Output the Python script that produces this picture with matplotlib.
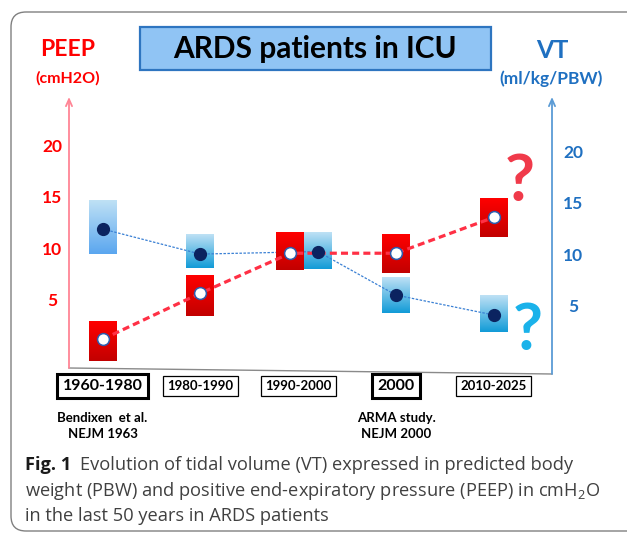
import matplotlib
matplotlib.use('Agg')
import matplotlib.pyplot as plt
import numpy as np
from matplotlib.colors import LinearSegmentedColormap
from matplotlib.patches import FancyBboxPatch, Rectangle
from matplotlib.transforms import blended_transform_factory
from matplotlib.lines import Line2D

# ---------------- data ----------------
periods = ['1960-1980', '1980-1990', '1990-2000', '2000', '2010-2025']
landmark = [True, False, False, True, False]
references = {0: 'Bendixen  et al.\nNEJM 1963', 3: 'ARMA study.\nNEJM 2000'}

peep = [1.1, 5.6, 9.5, 9.5, 13.0]          # cmH2O
peep_low = [-1.0, 3.4, 7.85, 7.55, 11.1]
peep_high = [2.9, 7.35, 11.55, 11.3, 14.9]

vt = [12.45, 10.0, 10.25, 6.0, 4.05]       # ml/kg PBW
vt_low = [10.0, 8.65, 8.55, 4.25, 2.4]
vt_high = [15.2, 11.95, 12.15, 7.75, 6.0]

peep_ticks = [5, 10, 15, 20]
vt_ticks = [5, 10, 15, 20]

title = 'ARDS patients in ICU'
caption_bold = 'Fig. 1'
caption_lines = ['Evolution of tidal volume (VT) expressed in predicted body',
                 'weight (PBW) and positive end-expiratory pressure (PEEP) in cmH$_2$O',
                 'in the last 50 years in ARDS patients']

# ---------------- style ----------------
plt.rcParams['font.family'] = ['Lato', 'DejaVu Sans']
plt.rcParams['mathtext.default'] = 'regular'
RED = '#ff0000'
BLUE_TXT = '#1f70c1'

W, H = 627, 536
fig = plt.figure(figsize=(W / 100, H / 100), dpi=100)
fig.patch.set_facecolor('white')


def fx(x):
    return x / W


def fy(y):
    return 1 - y / H


# outer rounded frame
frame = FancyBboxPatch((11 / 100, (H - 531) / 100), (660 - 11) / 100, (531 - 12) / 100,
                       boxstyle='round,pad=0,rounding_size=0.15',
                       transform=fig.dpi_scale_trans, fc='none', ec='#808080', lw=1.0)
fig.add_artist(frame)

AX_L, AX_R, AX_T, AX_B = 69, 552, 97, 368
ax = fig.add_axes([fx(AX_L), fy(AX_B), (AX_R - AX_L) / W, (AX_B - AX_T) / H])
ax2 = ax.twinx()
for a in (ax, ax2):
    for s in a.spines.values():
        s.set_visible(False)
    a.set_xticks([])
ax.patch.set_alpha(0)

n = len(periods)
idx = np.arange(n)
overlap = periods.index('1990-2000')
x_peep = idx - 0.08 * (idx == overlap)
x_vt = idx + 0.20 * (idx == overlap)
RW = 0.286

grad = np.linspace(0, 1, 256).reshape(-1, 1)


def gradient_rect(x, lo, hi, c_top, c_bot, transform, z):
    cmap = LinearSegmentedColormap.from_list('g', [c_bot, c_top])
    ax.imshow(grad, extent=[x - RW / 2, x + RW / 2, lo, hi], origin='lower', cmap=cmap,
              aspect='auto', transform=transform, zorder=z, interpolation='bilinear')


vt_bottom_cols = ['#5aa6ef', '#119bd7', '#119bd7', '#119bd7', '#119bd7']
for i in range(n):
    gradient_rect(x_vt[i], vt_low[i], vt_high[i], '#bfe1f5', vt_bottom_cols[i], ax2.transData, 2)
    gradient_rect(x_peep[i], peep_low[i], peep_high[i], '#ff0000', '#c20000', ax.transData, 4)

ax.plot(x_vt, vt, transform=ax2.transData, color='#3a80d4', lw=0.9, ls=(0, (2, 1.2)), zorder=3)
ax.plot(x_peep, peep, color='#ff3045', lw=2.3, ls=(0, (2.2, 1.3)), zorder=5)
ax.plot(x_peep, peep, 'o', ms=8.5, mfc='white', mec='#2a5db0', mew=1.1, zorder=7, ls='none')
ax.plot(x_vt, vt, 'o', ms=8.5, mfc='#0b2360', mec='#0b2360', transform=ax2.transData,
        zorder=7, ls='none')

ax.set_xlim(-0.3436, 4.595)
ax.set_ylim(-1.709, 24.756)
ax2.set_ylim(-1.123, 25.34)

ax.set_yticks(peep_ticks, labels=[str(t) for t in peep_ticks], fontweight='bold', ha='center')
ax.tick_params(axis='y', length=0, pad=12.2, labelcolor=RED, labelsize=12.5)
ax2.set_yticks(vt_ticks, labels=[str(t) for t in vt_ticks], fontweight='bold', ha='center')
ax2.tick_params(axis='y', length=0, pad=15.1, labelcolor=BLUE_TXT, labelsize=12.5)

# axis arrows and baseline
ax.annotate('', xy=(0, 1), xytext=(0, 0), xycoords='axes fraction',
            arrowprops=dict(arrowstyle='->,head_length=0.5,head_width=0.22', color='#ff8595',
                            lw=1.3, shrinkA=0, shrinkB=0), annotation_clip=False)
ax.annotate('', xy=(1, 1), xytext=(1, -6 / 271), xycoords='axes fraction',
            arrowprops=dict(arrowstyle='->,head_length=0.5,head_width=0.22', color='#5b9bd5',
                            lw=1.3, shrinkA=0, shrinkB=0), annotation_clip=False)
ax.add_line(Line2D([0, 1], [0, -6 / 271], transform=ax.transAxes, color='#8a8a8a', lw=1.0,
                   clip_on=False))

# question marks
fig.text(fx(520), fy(201), '?', color='#f03a4a', fontsize=47, fontweight='bold',
         ha='center', va='baseline')
fig.text(fx(528), fy(350), '?', color='#1ab2ea', fontsize=47, fontweight='bold',
         ha='center', va='baseline')

# category boxes
cat_tr = blended_transform_factory(ax.transData, fig.transFigure)
for i, (p, big) in enumerate(zip(periods, landmark)):
    ax.text(i, fy(386), p, transform=cat_tr, ha='center', va='center',
            fontsize=11.5 if big else 9.5, fontweight='bold',
            bbox=dict(boxstyle='square,pad=0.33', fc='white', ec='black',
                      lw=2.2 if big else 0.9), clip_on=False)
for i, ref in references.items():
    ax.text(i, fy(426), ref, transform=cat_tr, ha='center', va='center', fontsize=9.5,
            fontweight='bold', linespacing=1.3, clip_on=False)

# header
fig.add_artist(Rectangle((fx(140), fy(70)), fx(491) - fx(140), fy(27) - fy(70),
                         transform=fig.transFigure, fc='#90c4f4', ec='#2e75c0', lw=1.6))
fig.text(fx(315), fy(49), title, ha='center', va='center', fontsize=21.5, fontweight='bold',
         color='black')
fig.text(fx(68), fy(50), 'PEEP', ha='center', va='center', fontsize=16.5, fontweight='bold',
         color=RED)
fig.text(fx(68), fy(78), '(cmH2O)', ha='center', va='center', fontsize=11.5, fontweight='bold',
         color=RED)
fig.text(fx(552), fy(50), 'VT', ha='center', va='center', fontsize=18, fontweight='bold',
         color=BLUE_TXT)
fig.text(fx(551), fy(79), '(ml/kg/PBW)', ha='center', va='center', fontsize=12.5,
         fontweight='bold', color=BLUE_TXT)

# caption, sized so that the second line spans the measured width
fig.canvas.draw()
r = fig.canvas.get_renderer()
probe = fig.text(0, 0, caption_lines[1], fontsize=10, family='Open Sans')
w10 = probe.get_window_extent(r).width
probe.remove()
cs = 10 * (601 - 25) / w10
baselines = [470, 496, 521]
tb = fig.text(fx(25), fy(baselines[0]), caption_bold, fontsize=cs, family='Open Sans',
              fontweight='bold', color='#1a1a1a', va='baseline')
bx = tb.get_window_extent(r).x1
fig.text(bx / W + 9 / W, fy(baselines[0]), caption_lines[0], fontsize=cs, family='Open Sans',
         color='#404040', va='baseline')
for line, b in zip(caption_lines[1:], baselines[1:]):
    fig.text(fx(25), fy(b), line, fontsize=cs, family='Open Sans', color='#404040',
             va='baseline')

fig.savefig('out.png', dpi=100)
